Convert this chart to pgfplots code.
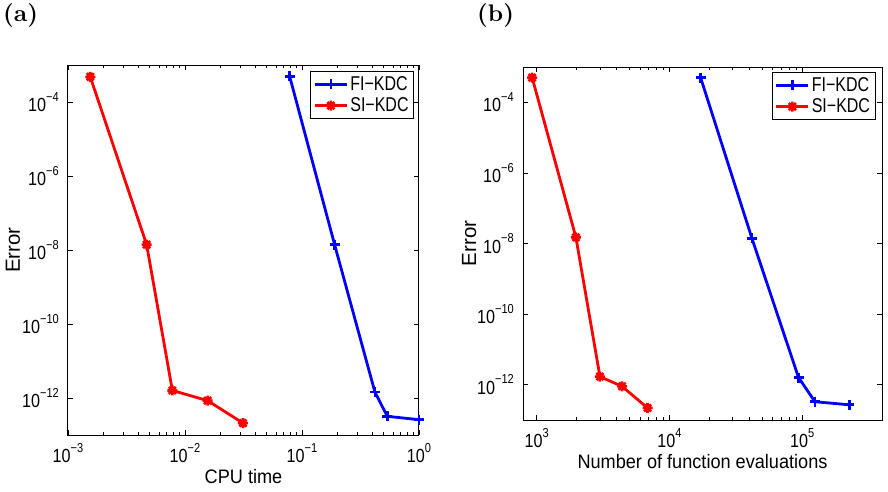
\documentclass[border=0pt]{standalone}
\usepackage{fontspec}
\usepackage{graphicx}
\usepackage{pgfplots}
\pgfplotsset{compat=1.18}
\newfontfamily\arial{Liberation Sans}
\newcommand\ten[1]{\scalebox{0.85}[1]{10\raisebox{10.5pt}{\fontsize{13pt}{13pt}\selectfont #1}}}
\newcommand\leg[1]{\scalebox{0.8}[1]{#1}}
\pgfdeclareplotmark{mstar}{%
 \pgfpathmoveto{\pgfqpoint{0pt}{\pgfplotmarksize}}\pgfpathlineto{\pgfqpoint{0pt}{-\pgfplotmarksize}}%
 \pgfpathmoveto{\pgfqpoint{\pgfplotmarksize}{0pt}}\pgfpathlineto{\pgfqpoint{-\pgfplotmarksize}{0pt}}%
 \pgfpathmoveto{\pgfqpoint{0.707\pgfplotmarksize}{0.707\pgfplotmarksize}}\pgfpathlineto{\pgfqpoint{-0.707\pgfplotmarksize}{-0.707\pgfplotmarksize}}%
 \pgfpathmoveto{\pgfqpoint{-0.707\pgfplotmarksize}{0.707\pgfplotmarksize}}\pgfpathlineto{\pgfqpoint{0.707\pgfplotmarksize}{-0.707\pgfplotmarksize}}%
 \pgfusepathqstroke}
\pgfplotsset{
 every axis/.append style={
 scale only axis, clip=false,
 ymin=1e-13, ymax=1e-3,
 ytick={1e-12,1e-10,1e-8,1e-6,1e-4},
 yticklabels={\ten{−12},\ten{−10},\ten{−8},\ten{−6},\ten{−4}},
 tick label style={font=\arial\fontsize{19pt}{21pt}\selectfont},
 yticklabel style={inner sep=0pt, xshift=-9pt},
 xticklabel style={inner sep=0pt, yshift=-8pt},
 axis line style={line width=1pt},
 major tick length=5pt, minor tick length=3pt,
 every tick/.style={black, line width=0.8pt},
 legend style={font=\arial\fontsize{20pt}{22pt}\selectfont, draw=black, line width=1pt,
   inner sep=3pt, row sep=2pt, cells={anchor=west}},
 legend image code/.code={\draw[mark repeat=2,mark phase=2] plot coordinates {(0pt,0pt) (16pt,0pt) (32pt,0pt)};},
 ylabel={Error},
 },
}
\begin{document}
\begin{tikzpicture}
\useasboundingbox (0,0) rectangle (888pt,-491pt);
\node[anchor=base west, font=\fontsize{10pt}{12pt}\selectfont\bfseries, inner sep=0pt] at (3pt,-21pt) {\scalebox{2.4}{(a)}};
\node[anchor=base west, font=\fontsize{10pt}{12pt}\selectfont\bfseries, inner sep=0pt] at (477pt,-21pt) {\scalebox{2.4}{(b)}};
\begin{loglogaxis}[at={(68pt,-65pt)}, anchor=north west, width=351pt, height=370pt,
  xmin=1e-3, xmax=1,
  xtick={1e-3,1e-2,1e-1,1},
  xticklabels={\ten{−3},\ten{−2},\ten{−1},\ten{0}},
  xlabel={\scalebox{0.93}[1]{CPU time}},
  xlabel style={font=\arial\fontsize{19.5pt}{21pt}\selectfont, at={(axis description cs:0.5,-0.111)}, anchor=center},
  ylabel style={font=\arial\fontsize{20.5pt}{22pt}\selectfont, at={(axis description cs:-0.157,0.5)}, anchor=center},
  legend style={at={(0.986,0.984)}, anchor=north east}]
\addplot[blue, line width=2.8pt, mark=+, mark size=5pt, mark options={line width=2.6pt}] coordinates {(7.85e-2,4.9e-4) (0.19,1.4e-8) (0.42,1.45e-12) (0.536,3.2e-13) (1.0,2.6e-13)};
\addlegendentry{\leg{FI−KDC}}
\addplot[red, line width=2.8pt, mark=mstar, mark size=5pt, mark options={line width=2.6pt}] coordinates {(1.55e-3,4.8e-4) (4.7e-3,1.4e-8) (7.8e-3,1.6e-12) (1.56e-2,8.5e-13) (3.13e-2,2.1e-13)};
\addlegendentry{\leg{SI−KDC}}
\end{loglogaxis}
\begin{loglogaxis}[at={(523pt,-67pt)}, anchor=north west, width=359pt, height=353pt,
  xmin=790, xmax=4e5,
  xtick={1e3,1e4,1e5},
  xticklabels={\ten{3},\ten{4},\ten{5}},
  xlabel={\scalebox{0.93}[1]{Number of function evaluations}},
  xlabel style={font=\arial\fontsize{19.5pt}{21pt}\selectfont, at={(axis description cs:0.5,-0.119)}, anchor=center},
  ylabel style={font=\arial\fontsize{20.5pt}{22pt}\selectfont, at={(axis description cs:-0.150,0.5)}, anchor=center},
  legend style={at={(0.982,0.986)}, anchor=north east}]
\addplot[blue, line width=2.8pt, mark=+, mark size=5pt, mark options={line width=2.6pt}] coordinates {(1.72e4,5e-4) (4.19e4,1.4e-8) (9.4e4,1.6e-12) (1.25e5,3.3e-13) (2.27e5,2.7e-13)};
\addlegendentry{\leg{FI−KDC}}
\addplot[red, line width=2.8pt, mark=mstar, mark size=5pt, mark options={line width=2.6pt}] coordinates {(926,5e-4) (1977,1.5e-8) (3000,1.7e-12) (4400,9e-13) (6850,2.2e-13)};
\addlegendentry{\leg{SI−KDC}}
\end{loglogaxis}
\end{tikzpicture}
\end{document}
